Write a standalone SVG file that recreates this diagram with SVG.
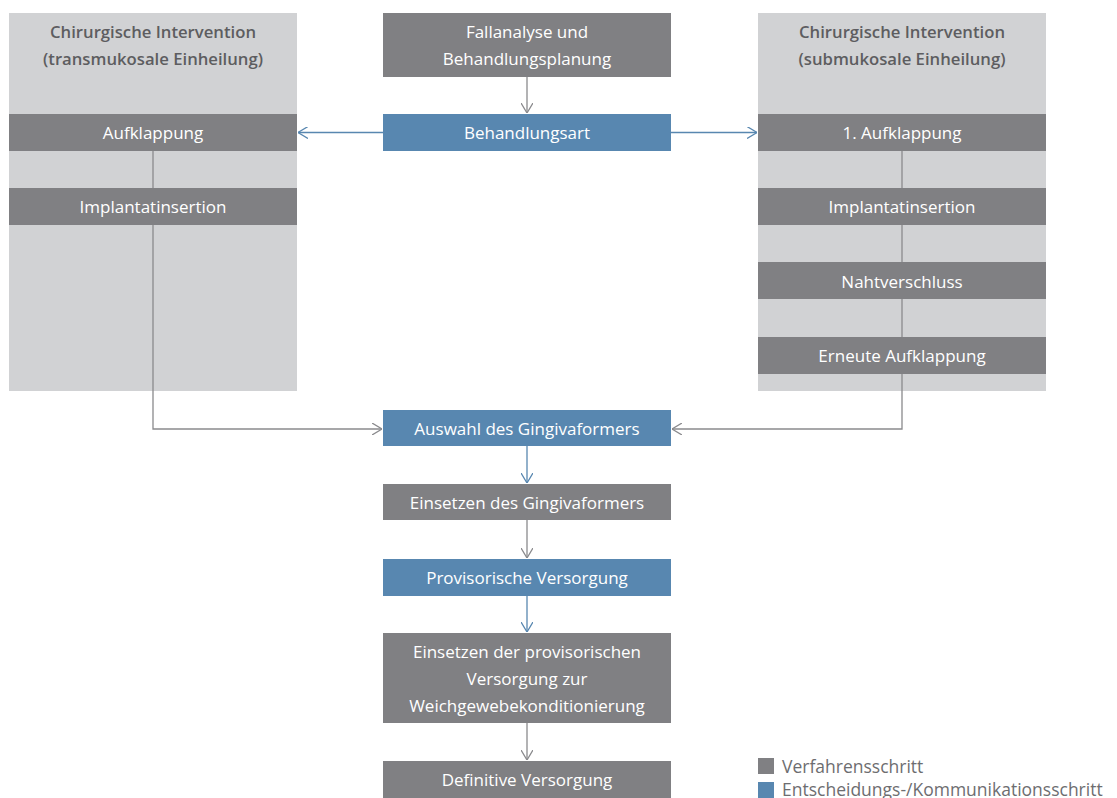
<svg xmlns="http://www.w3.org/2000/svg" width="1117" height="798" viewBox="0 0 1117 798">
<defs>
<style>
.panel{fill:#d1d2d4}
.g{fill:#808083}
.b{fill:#5887b0}
.t{font-family:"Open Sans","Noto Sans",sans-serif;font-size:17px;fill:#ffffff;text-anchor:middle}
.h{font-family:"Open Sans","Noto Sans",sans-serif;font-size:16.7px;font-weight:600;fill:#5d5d60;text-anchor:middle}
.lg{font-family:"Open Sans","Noto Sans",sans-serif;font-size:17.5px;fill:#6d6d70}
.cg{fill:none;stroke:#8a8a8d;stroke-width:1.3}
.cb{fill:none;stroke:#5887b0;stroke-width:1.3}
</style>
<marker id="ag" viewBox="0 0 10 12" refX="10" refY="6" markerWidth="10" markerHeight="12" markerUnits="userSpaceOnUse" orient="auto"><path d="M0,0 L10,6 L0,12" fill="none" stroke="#8a8a8d" stroke-width="1.3"/></marker>
<marker id="ab" viewBox="0 0 10 12" refX="10" refY="6" markerWidth="10" markerHeight="12" markerUnits="userSpaceOnUse" orient="auto"><path d="M0,0 L10,6 L0,12" fill="none" stroke="#5887b0" stroke-width="1.3"/></marker>
</defs>
<rect width="1117" height="798" fill="#ffffff"/>
<g id="panel-left">
<rect class="panel" x="9" y="13" width="288" height="378"/>
<text class="h" x="153" y="38">Chirurgische Intervention</text>
<text class="h" x="153" y="65">(transmukosale Einheilung)</text>
</g>
<g id="panel-right">
<rect class="panel" x="758" y="13" width="288" height="378"/>
<text class="h" x="902" y="38">Chirurgische Intervention</text>
<text class="h" x="902" y="65">(submukosale Einheilung)</text>
</g>
<g id="connectors">
<line class="cg" x1="527" y1="77" x2="527" y2="113" marker-end="url(#ag)"/>
<line class="cb" x1="383" y1="132.5" x2="298" y2="132.5" marker-end="url(#ab)"/>
<line class="cb" x1="671" y1="132.5" x2="757" y2="132.5" marker-end="url(#ab)"/>
<line class="cg" x1="153" y1="151" x2="153" y2="188"/>
<polyline class="cg" points="153,225 153,429 382,429" marker-end="url(#ag)"/>
<line class="cg" x1="902" y1="151" x2="902" y2="188"/>
<line class="cg" x1="902" y1="225" x2="902" y2="262"/>
<line class="cg" x1="902" y1="299" x2="902" y2="337"/>
<polyline class="cg" points="902,374 902,429 672,429" marker-end="url(#ag)"/>
<line class="cb" x1="527" y1="446" x2="527" y2="483" marker-end="url(#ab)"/>
<line class="cg" x1="527" y1="520" x2="527" y2="558" marker-end="url(#ag)"/>
<line class="cb" x1="527" y1="596" x2="527" y2="632" marker-end="url(#ab)"/>
<line class="cg" x1="527" y1="723" x2="527" y2="760" marker-end="url(#ag)"/>
</g>
<g id="fallanalyse">
<rect class="g" x="383" y="13" width="288" height="64"/>
<text class="t" x="527" y="38">Fallanalyse und</text>
<text class="t" x="527" y="65">Behandlungsplanung</text>
</g>
<g id="behandlungsart">
<rect class="b" x="383" y="114" width="288" height="37"/>
<text class="t" x="527" y="139">Behandlungsart</text>
</g>
<g id="l-aufklappung">
<rect class="g" x="9" y="114" width="288" height="37"/>
<text class="t" x="153" y="139">Aufklappung</text>
</g>
<g id="l-implantat">
<rect class="g" x="9" y="188" width="288" height="37"/>
<text class="t" x="153" y="213">Implantatinsertion</text>
</g>
<g id="r-aufklappung">
<rect class="g" x="758" y="114" width="288" height="37"/>
<text class="t" x="902" y="139">1. Aufklappung</text>
</g>
<g id="r-implantat">
<rect class="g" x="758" y="188" width="288" height="37"/>
<text class="t" x="902" y="213">Implantatinsertion</text>
</g>
<g id="r-naht">
<rect class="g" x="758" y="262" width="288" height="37"/>
<text class="t" x="902" y="288">Nahtverschluss</text>
</g>
<g id="r-erneut">
<rect class="g" x="758" y="337" width="288" height="37"/>
<text class="t" x="902" y="362">Erneute Aufklappung</text>
</g>
<g id="auswahl">
<rect class="b" x="383" y="410" width="288" height="36"/>
<text class="t" x="527" y="435">Auswahl des Gingivaformers</text>
</g>
<g id="einsetzen-gf">
<rect class="g" x="383" y="484" width="288" height="36"/>
<text class="t" x="527" y="509">Einsetzen des Gingivaformers</text>
</g>
<g id="provisorisch">
<rect class="b" x="383" y="559" width="288" height="37"/>
<text class="t" x="527" y="584">Provisorische Versorgung</text>
</g>
<g id="einsetzen-prov">
<rect class="g" x="383" y="633" width="288" height="90"/>
<text class="t" x="527" y="658">Einsetzen der provisorischen</text>
<text class="t" x="527" y="685">Versorgung zur</text>
<text class="t" x="527" y="712">Weichgewebekonditionierung</text>
</g>
<g id="definitiv">
<rect class="g" x="383" y="761" width="288" height="37"/>
<text class="t" x="527" y="786">Definitive Versorgung</text>
</g>
<g id="legend">
<rect class="g" x="758" y="758" width="16" height="16"/>
<text class="lg" x="782" y="773">Verfahrensschritt</text>
<rect class="b" x="758" y="782" width="16" height="16"/>
<text class="lg" x="782" y="796">Entscheidungs-/Kommunikationsschritt</text>
</g>
</svg>
